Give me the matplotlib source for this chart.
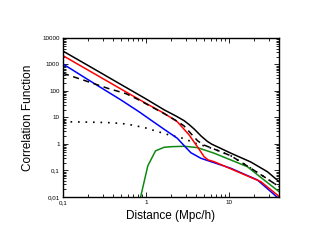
import matplotlib
matplotlib.use('Agg')
import matplotlib.pyplot as plt
from matplotlib.ticker import FixedLocator, LogLocator, NullFormatter

plt.rcParams['font.family'] = ['Liberation Sans', 'DejaVu Sans']

# total (black solid)
x_total = [0.1, 0.2, 0.5, 1.0, 1.65, 2.3, 2.87, 3.3, 3.79, 4.6, 5.48, 6.2, 7.0, 10.5, 18.2, 28.9, 40]
y_total = [3200, 920, 175, 50, 19.5, 11.3, 7.6, 5.4, 3.7, 2.0, 1.25, 0.98, 0.82, 0.45, 0.21, 0.09, 0.038]

# red
x_red = [0.1, 0.2, 0.5, 1.0, 1.65, 2.38, 3.3, 4.15, 5.0, 5.6, 6.6, 9, 12.6, 24.1, 40]
y_red = [2150, 617, 118, 34, 14.4, 6.9, 2.2, 0.79, 0.33, 0.25, 0.215, 0.142, 0.09, 0.038, 0.0105]

# blue
x_blue = [0.1, 0.2, 0.5, 0.82, 1.2, 1.65, 2.38, 3.0, 3.46, 4.56, 6.5, 10.5, 21.9, 40]
y_blue = [1045, 268, 45.7, 16.6, 7.2, 3.6, 1.64, 0.75, 0.47, 0.29, 0.2, 0.121, 0.044, 0.0085]

# black dashed
x_dash = [0.1, 0.2, 0.35, 0.57, 0.8, 1.2, 1.65, 2.38, 2.87, 3.5, 4.2, 5.0, 6.5, 10.5, 18, 26.4, 40]
y_dash = [466, 225, 125, 80, 48, 24, 14, 7.2, 4.8, 2.4, 1.3, 0.91, 0.655, 0.36, 0.125, 0.058, 0.0245]

# black dotted
x_dot = [0.1, 0.2, 0.35, 0.5, 0.7, 1.0, 1.4, 1.89, 2.87, 3.79, 5.0, 6.5, 10.5, 18, 26.4, 40]
y_dot = [6.9, 6.7, 6.4, 6.0, 5.1, 4.0, 2.9, 2.2, 1.6, 1.1, 0.85, 0.655, 0.36, 0.125, 0.058, 0.0245]

# green
x_green = [0.84, 0.86, 1.05, 1.3, 1.65, 2.0, 2.87, 4.15, 6.6, 10, 16.6, 25, 40]
y_green = [0.008, 0.01, 0.15, 0.55, 0.75, 0.79, 0.82, 0.73, 0.45, 0.265, 0.139, 0.05, 0.0158]

xtick_vals = [0.1, 1, 10]
xtick_labels = ['0,1', '1', '10']
ytick_vals = [0.01, 0.1, 1, 10, 100, 1000, 10000]
ytick_labels = ['0,01', '0,1', '1', '10', '100', '1000', '10000']

fig = plt.figure(figsize=(3.15, 2.42), dpi=100)
ax = fig.add_axes([0.2, 0.186, 0.686, 0.657])

lw = 1.1
ax.plot(x_dot, y_dot, color='black', lw=1.2, linestyle=(0, (1, 3.5)))
ax.plot(x_green, y_green, color='#118811', lw=lw)
ax.plot(x_blue, y_blue, color='#0000ff', lw=lw)
ax.plot(x_red, y_red, color='#ff0000', lw=lw)
ax.plot(x_dash, y_dash, color='black', lw=lw, linestyle=(0, (4, 3)))
ax.plot(x_total, y_total, color='black', lw=lw)

ax.set_xscale('log')
ax.set_yscale('log')
ax.set_xlim(0.1, 40)
ax.set_ylim(0.01, 10000)

ax.xaxis.set_major_locator(FixedLocator(xtick_vals))
ax.set_xticklabels(xtick_labels)
ax.yaxis.set_major_locator(FixedLocator(ytick_vals))
ax.set_yticklabels(ytick_labels)
ax.xaxis.set_minor_locator(LogLocator(base=10, subs=range(2, 10)))
ax.yaxis.set_minor_locator(LogLocator(base=10, subs=range(2, 10), numticks=20))
ax.xaxis.set_minor_formatter(NullFormatter())
ax.yaxis.set_minor_formatter(NullFormatter())

ax.tick_params(which='both', direction='in', top=True, right=True, width=0.6, labelsize=4.5)
ax.tick_params(which='major', length=3.5, pad=2.5)
ax.tick_params(which='minor', length=2)
for s in ax.spines.values():
    s.set_linewidth(1.0)

ax.set_xlabel('Distance (Mpc/h)', fontsize=8.5, labelpad=3)
ax.set_ylabel('Correlation Function', fontsize=8.5, labelpad=6)

fig.savefig('out.png', dpi=100)
